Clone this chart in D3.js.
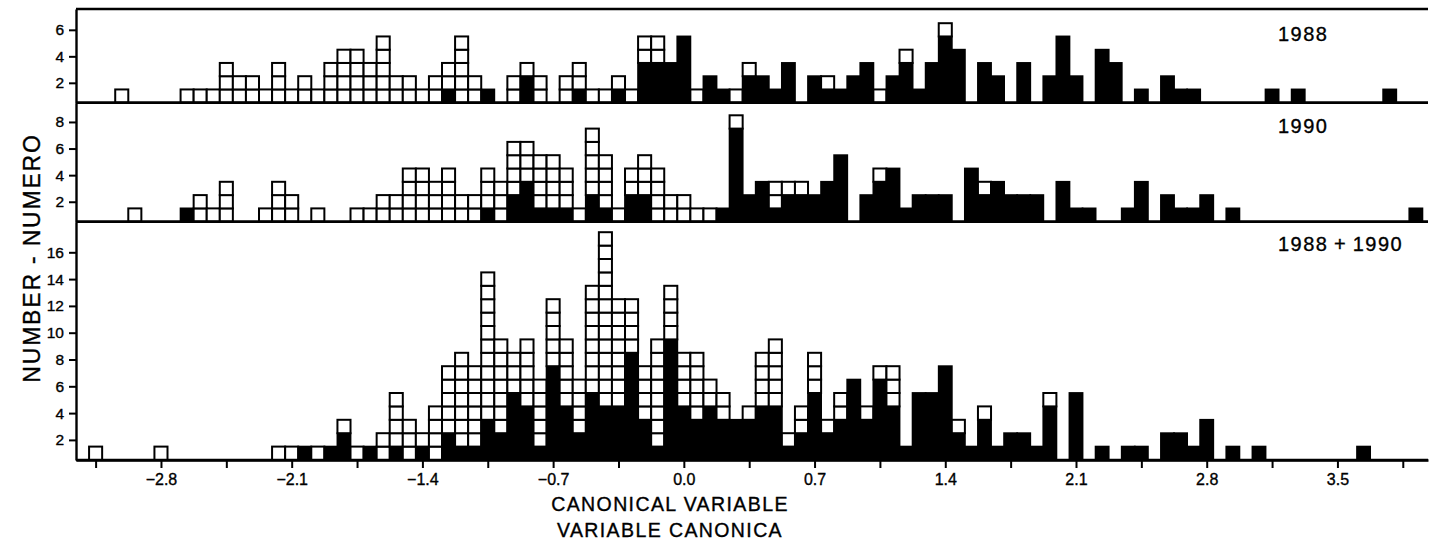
<!DOCTYPE html>
<html><head><meta charset="utf-8">
<script src="https://cdn.jsdelivr.net/npm/d3@7"></script>
<style>
body{margin:0;background:#fff;}
svg{display:block;}
text{font-family:"Liberation Sans",Arial,sans-serif;fill:#000;stroke:#000;stroke-width:0.35px;}
</style></head><body>
<svg id="c" width="1430" height="547"></svg>
<script>
// ---- DATA (bin centres on the canonical variable, bin width 0.07) ----
const x1988 = [-3.01,-2.66,-2.59,-2.52,-2.45,-2.38,-2.31,-2.24,-2.17,-2.10,-2.03,-1.96,-1.89,-1.82,-1.75,-1.68,-1.61,-1.54,-1.47,-1.40,-1.33,-1.26,-1.19,-1.12,-1.05,-0.91,-0.84,-0.77,-0.63,-0.56,-0.49,-0.42,-0.35,-0.28,-0.21,-0.14,-0.07,0.00,0.07,0.14,0.21,0.28,0.35,0.42,0.49,0.56,0.70,0.77,0.84,0.91,0.98,1.05,1.12,1.19,1.26,1.33,1.40,1.47,1.61,1.68,1.82,1.96,2.03,2.10,2.24,2.31,2.45,2.59,2.66,2.73,3.15,3.29,3.78];
const black1988 = [0,0,0,0,0,0,0,0,0,0,0,0,0,0,0,0,0,0,0,0,0,1,0,0,1,0,2,0,0,1,0,0,1,0,3,3,3,5,0,2,1,0,2,2,1,3,2,1,1,2,3,0,2,3,1,3,5,4,3,2,3,2,5,2,4,3,1,2,1,1,1,1,1];
const open1988  = [1,1,1,1,3,2,2,1,3,1,2,1,3,4,4,3,5,2,2,1,2,2,5,2,0,2,1,2,2,2,1,1,1,1,2,2,0,0,1,0,0,1,1,0,0,0,0,1,0,0,0,1,0,1,0,0,1,0,0,0,0,0,0,0,0,0,0,0,0,0,0,0,0];

const x1990 = [-2.94,-2.66,-2.59,-2.52,-2.45,-2.24,-2.17,-2.10,-1.96,-1.75,-1.68,-1.61,-1.54,-1.47,-1.40,-1.33,-1.26,-1.19,-1.12,-1.05,-0.98,-0.91,-0.84,-0.77,-0.70,-0.63,-0.56,-0.49,-0.42,-0.35,-0.28,-0.21,-0.14,-0.07,0.00,0.07,0.14,0.21,0.28,0.35,0.42,0.49,0.56,0.63,0.70,0.77,0.84,0.98,1.05,1.12,1.19,1.26,1.33,1.40,1.54,1.61,1.68,1.75,1.82,1.89,2.03,2.10,2.17,2.38,2.45,2.59,2.66,2.73,2.80,2.94,3.92];
const black1990 = [0,1,0,0,0,0,0,0,0,0,0,0,0,0,0,0,0,0,0,1,0,2,3,1,1,1,0,2,1,0,2,2,0,0,0,0,0,1,7,2,3,1,2,2,2,3,5,2,3,4,1,2,2,2,4,2,3,2,2,2,3,1,1,1,3,2,1,1,2,1,1];
const open1990  = [1,0,2,1,3,1,3,2,1,1,1,2,2,4,4,3,4,2,2,3,3,4,3,4,4,3,1,5,4,1,2,3,4,2,2,1,1,0,1,0,0,2,1,1,0,0,0,0,1,0,0,0,0,0,0,1,0,0,0,0,0,0,0,0,0,0,0,0,0,0,0];

const xBoth = [-3.15,-2.80,-2.17,-2.10,-2.03,-1.96,-1.89,-1.82,-1.75,-1.68,-1.61,-1.54,-1.47,-1.40,-1.33,-1.26,-1.19,-1.12,-1.05,-0.98,-0.91,-0.84,-0.77,-0.70,-0.63,-0.56,-0.49,-0.42,-0.35,-0.28,-0.21,-0.14,-0.07,0.00,0.07,0.14,0.21,0.28,0.35,0.42,0.49,0.56,0.63,0.70,0.77,0.84,0.91,0.98,1.05,1.12,1.19,1.26,1.33,1.40,1.47,1.54,1.61,1.68,1.75,1.82,1.89,1.96,2.10,2.24,2.38,2.45,2.59,2.66,2.73,2.80,2.94,3.08,3.64];
const blackBoth = [0,0,0,0,1,0,1,2,0,1,0,1,0,1,0,2,1,1,3,2,5,4,1,7,4,2,5,4,4,8,3,1,9,4,3,4,3,3,3,4,4,1,2,5,2,3,6,3,6,4,1,5,5,7,2,1,3,1,2,2,1,4,5,1,1,1,2,2,1,3,1,1,1];
const openBoth  = [1,1,1,1,0,1,0,1,1,0,2,4,3,1,4,5,7,6,11,7,3,5,5,5,5,4,8,13,8,4,4,8,4,4,5,2,2,0,1,4,5,1,2,3,1,2,0,1,1,3,0,0,0,0,1,0,1,0,0,0,0,1,0,0,0,0,0,0,0,0,0,0,0];

const xTicks   = [-3.15,-2.8,-2.45,-2.1,-1.75,-1.4,-1.05,-0.7,-0.35,0,0.35,0.7,1.05,1.4,1.75,2.1,2.45,2.8,3.15,3.5,3.85];
const xLabeled = [-2.8,-2.1,-1.4,-0.7,0,0.7,1.4,2.1,2.8,3.5];
const yTicks1988 = [2,4,6];
const yTicks1990 = [2,4,6,8];
const yTicksBoth = [2,4,6,8,10,12,14,16];
const panelNames = ["1988","1990","1988\u2009+\u20091990"];

// ---- LAYOUT ----
const svg = d3.select("#c");
const L = 76, R = 1428;
const halfBin = 0.035;
const x = d3.scaleLinear().domain([-3.255, 3.985]).range([L, R]);

const panels = [
  {name:panelNames[0], xs:x1988, bl:black1988, op:open1988, ticks:yTicks1988, top:9,     base:102.7, box:13.25, labY:41},
  {name:panelNames[1], xs:x1990, bl:black1990, op:open1990, ticks:yTicks1990, top:102.7, base:221.7, box:13.3,  labY:133},
  {name:panelNames[2], xs:xBoth, bl:blackBoth, op:openBoth, ticks:yTicksBoth, top:221.7, base:460,   box:13.4,  labY:251}
];

panels.forEach(p => {
  const ymax = 0.5 + (p.base - p.top) / p.box;
  const y = d3.scaleLinear().domain([0.5, ymax]).range([p.base, p.top]);
  const g = svg.append("g");
  p.xs.forEach((v, i) => {
    const b = p.bl[i], w = p.op[i];
    const x0 = x(v - halfBin), x1 = x(v + halfBin);
    if (b > 0) {
      g.append("rect").attr("x", x0).attr("y", y(b + 0.5))
        .attr("width", x1 - x0).attr("height", y(0.5) - y(b + 0.5))
        .attr("fill", "#000").attr("stroke", "#000").attr("stroke-width", 1.8);
    }
    for (let j = 1; j <= w; j++) {
      g.append("rect").attr("x", x0).attr("y", y(b + j + 0.5))
        .attr("width", x1 - x0).attr("height", y(b + j - 0.5) - y(b + j + 0.5))
        .attr("fill", "#fff").attr("stroke", "#000").attr("stroke-width", 2);
    }
  });
  g.append("line").attr("x1", L).attr("x2", R).attr("y1", p.base).attr("y2", p.base)
    .attr("stroke", "#000").attr("stroke-width", 2.4);
  g.append("line").attr("x1", L).attr("x2", R).attr("y1", p.top).attr("y2", p.top)
    .attr("stroke", "#000").attr("stroke-width", 2.4);
  const ax = d3.axisLeft(y).tickValues(p.ticks).tickSize(7).tickSizeOuter(0).tickPadding(5).tickFormat(d3.format("d"));
  const ag = g.append("g").attr("transform", `translate(${L},0)`).call(ax);
  ag.select(".domain").attr("stroke-width", 2.4);
  ag.selectAll(".tick line").attr("stroke-width", 2);
  ag.selectAll(".tick text").attr("font-size", 15.5).attr("font-family", "Liberation Sans, Arial, sans-serif");
  svg.append("text").attr("x", 1278).attr("y", p.labY)
    .attr("font-family", "DejaVu Sans, sans-serif").attr("font-size", 20)
    .attr("letter-spacing", 1.5).text(p.name);
});

// x axis
const fmt = d3.format(".1f");
const xa = d3.axisBottom(x).tickValues(xTicks).tickSize(8).tickSizeOuter(0).tickPadding(6)
  .tickFormat(d => xLabeled.some(v => Math.abs(v - d) < 1e-6) ? fmt(d) : "");
const xg = svg.append("g").attr("transform", "translate(0,460)").call(xa);
xg.select(".domain").attr("stroke-width", 2.4);
xg.selectAll(".tick line").attr("stroke-width", 2);
xg.selectAll(".tick text").attr("font-size", 16).attr("font-family", "Liberation Sans, Arial, sans-serif");

// titles
svg.append("text").attr("x", 670).attr("y", 511).attr("text-anchor", "middle")
  .attr("font-size", 19.5).attr("letter-spacing", 1.4).text("CANONICAL VARIABLE");
svg.append("text").attr("x", 670).attr("y", 537).attr("text-anchor", "middle")
  .attr("font-size", 19.5).attr("letter-spacing", 1.4).text("VARIABLE CANONICA");
svg.append("text").attr("transform", "translate(40,258) rotate(-90)").attr("text-anchor", "middle")
  .attr("font-size", 23).attr("letter-spacing", 1.8).text("NUMBER - NUMERO");
</script>
</body></html>
